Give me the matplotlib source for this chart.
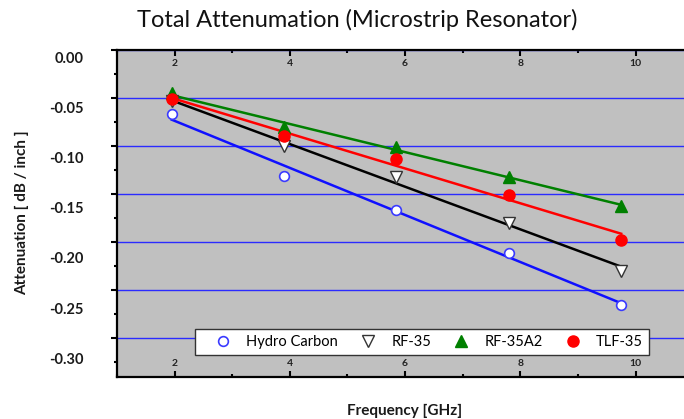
import numpy as np
import matplotlib
matplotlib.use('Agg')
import matplotlib.pyplot as plt
from matplotlib.ticker import MultipleLocator

plt.rcParams['font.family'] = ['Lato', 'DejaVu Sans']

# Frequencies of the resonator harmonics (GHz)
freq = [1.95, 3.9, 5.85, 7.8, 9.75]

# Attenuation [dB / inch]
hydro_carbon = [-0.057, -0.118, -0.152, -0.195, -0.247]
rf35 = [-0.044, -0.089, -0.119, -0.165, -0.213]
rf35a2 = [-0.036, -0.070, -0.090, -0.119, -0.148]
tlf35 = [-0.042, -0.079, -0.102, -0.137, -0.182]

y_ticks = [0.00, -0.05, -0.10, -0.15, -0.20, -0.25, -0.30]
y_tick_labels = ['0.00', '-0.05', '-0.10', '-0.15', '-0.20', '-0.25', '-0.30']
x_ticks = [2, 4, 6, 8, 10]

fig = plt.figure(figsize=(6.84, 4.19), dpi=100)

# background axes: grey panel, blue grid, spine ticks
ax_bg = fig.add_axes([117 / 684, 42.3 / 419, 567 / 684, 327.1 / 419])
ax_bg.set_facecolor('#c0c0c0')
ax_bg.set_xlim(1.0, 10.84)
ax_bg.set_ylim(-0.340, 0.0)
ax_bg.yaxis.set_major_locator(MultipleLocator(0.05))
ax_bg.yaxis.set_minor_locator(MultipleLocator(0.025))
ax_bg.set_xticks(x_ticks)
ax_bg.xaxis.set_minor_locator(MultipleLocator(1))
ax_bg.grid(axis='y', which='major', color='#2b2bff', linewidth=1.0)
ax_bg.tick_params(axis='y', which='both', direction='out', labelleft=False, width=1.5)
ax_bg.tick_params(axis='y', which='major', length=4)
ax_bg.tick_params(axis='y', which='minor', length=2)
ax_bg.tick_params(axis='x', which='both', direction='in', top=True, bottom=True,
                  labeltop=True, labelbottom=True, pad=-13, width=1.5,
                  labelsize=7.5, labelcolor='#222222')
ax_bg.tick_params(axis='x', which='major', length=4)
ax_bg.tick_params(axis='x', which='minor', length=2)
for lab in ax_bg.get_xticklabels():
    lab.set_fontweight('bold')
for s in ['left', 'top', 'bottom']:
    ax_bg.spines[s].set_linewidth(1.6)
ax_bg.spines['right'].set_visible(False)

# data axes on top, carries the value labels
ax = ax_bg.twinx()
ax.set_ylim(-0.3184, 0.0074)
ax.yaxis.set_ticks_position('left')
ax.set_yticks(y_ticks)
ax.set_yticklabels(y_tick_labels, fontsize=10.5, fontweight='bold', color='#1a1a1a')
ax.tick_params(axis='y', length=0, pad=24)
for s in ax.spines.values():
    s.set_visible(False)

series = [
    (hydro_carbon, 'Hydro Carbon', '#1010ff', dict(marker='o', markersize=7, markerfacecolor='white',
                                                    markeredgecolor='#3a3aff', markeredgewidth=1.2)),
    (rf35, 'RF-35', 'black', dict(marker='v', markersize=8, markerfacecolor='white',
                                  markeredgecolor='#333333', markeredgewidth=1.0)),
    (rf35a2, 'RF-35A2', '#008000', dict(marker='^', markersize=8, markerfacecolor='#008000',
                                        markeredgecolor='#008000')),
    (tlf35, 'TLF-35', '#ff0000', dict(marker='o', markersize=8, markerfacecolor='#ff0000',
                                      markeredgecolor='#ff0000')),
]

x = np.array(freq)
for vals, name, col, mk in series:
    k, b = np.polyfit(x, vals, 1)
    ax.plot(x, k * x + b, color=col, linewidth=1.8, zorder=2)
for vals, name, col, mk in series:
    ax.plot(x, vals, linestyle='none', label=name, zorder=3, **mk)

leg = ax.legend(loc='center', bbox_to_anchor=(0.538, 0.106), ncol=4, frameon=True,
                fancybox=False, framealpha=1, edgecolor='#333333', fontsize=10.5,
                handlelength=3, handletextpad=0.1, columnspacing=0.55, borderpad=0.4)
leg.get_frame().set_linewidth(1.0)
leg.set_zorder(5)

fig.text(357 / 684, 1 - 20 / 419, 'Total Attenumation (Microstrip Resonator)', ha='center',
         va='center', fontsize=17, color='#111111')
fig.text(405 / 684, 1 - 411 / 419, 'Frequency [GHz]', ha='center', va='center',
         fontsize=11, fontweight='bold', color='#1a1a1a')
fig.text(22 / 684, 1 - 212.5 / 419, 'Attenuation [ dB / inch ]', ha='center', va='center',
         rotation=90, fontsize=11, fontweight='bold', color='#1a1a1a')

fig.savefig('out.png', dpi=100)
